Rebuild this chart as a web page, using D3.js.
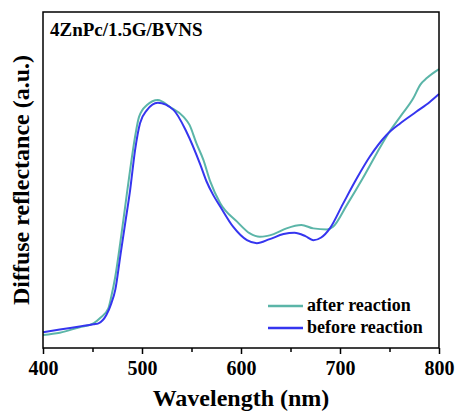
<!DOCTYPE html>
<html>
<head>
<meta charset="utf-8">
<script src="https://cdn.jsdelivr.net/npm/d3@7"></script>
<style>
  body { margin: 0; background: #fff; }
  text { font-family: "Liberation Serif", "DejaVu Serif", serif; font-weight: bold; }
</style>
</head>
<body>
<div id="chart"></div>
<script>
// Wavelength (nm) and diffuse reflectance (a.u.)
const beforeWl = [400, 417, 437, 451, 456, 464, 469, 473, 478, 483, 488, 493, 498, 505, 516, 532, 545, 559, 565, 572, 579, 592, 606, 616, 629, 643, 654, 665, 673, 681, 690, 703, 717, 730, 747, 761, 777, 791, 800];
const beforeR  = [4.7, 5.5, 6.4, 7.05, 7.35, 9.8, 13.3, 17.3, 27.2, 37.1, 47.0, 58.9, 66.9, 70.8, 73.0, 70.8, 64.3, 54.5, 49.7, 45.5, 42.1, 36.1, 32.1, 31.2, 32.4, 33.9, 34.3, 33.3, 32.1, 32.9, 35.7, 42.9, 50.5, 56.9, 63.4, 66.9, 70.3, 73.3, 75.6];

const afterWl = [400, 417, 437, 451, 458, 466, 469, 473, 478, 483, 488, 493, 497, 505, 516, 528, 542, 548, 555, 562, 569, 579, 596, 609, 619, 633, 646, 661, 673, 687, 693, 707, 723, 737, 749, 762, 774, 781, 788, 800];
const afterR  = [3.9, 4.55, 6.2, 7.35, 9.0, 11.8, 15.3, 21.2, 31.2, 42.1, 53.0, 62.9, 68.8, 72.3, 73.8, 71.8, 68.8, 66.4, 60.9, 56.0, 49.5, 43.1, 37.6, 34.1, 33.1, 33.9, 35.6, 36.6, 35.6, 35.3, 36.1, 42.6, 50.5, 57.9, 63.9, 69.3, 74.3, 78.3, 80.4, 83.0];

const majorTicks = [400, 500, 600, 700, 800];
const minorTicks = [450, 550, 650, 750];

const seriesNames = ["after reaction", "before reaction"];
const seriesColors = ["#5bb5a8", "#3535ef"];

const width = 457, height = 412;
const margin = { top: 12, right: 18, bottom: 64, left: 43 };
const innerWidth = width - margin.left - margin.right;
const innerHeight = height - margin.top - margin.bottom;

const series = [
  { name: seriesNames[0], color: seriesColors[0], values: afterWl.map((w, i) => ({ w, r: afterR[i] })) },
  { name: seriesNames[1], color: seriesColors[1], values: beforeWl.map((w, i) => ({ w, r: beforeR[i] })) }
];

const svg = d3.select("#chart")
  .append("svg")
    .attr("width", width)
    .attr("height", height);

const innerChart = svg.append("g")
  .attr("transform", `translate(${margin.left}, ${margin.top})`);

// Scales
const xScale = d3.scaleLinear()
  .domain([400, 800])
  .range([0, innerWidth]);

const yScale = d3.scaleLinear()
  .domain([0, 100])
  .range([innerHeight, 0]);

// Curves
const line = d3.line()
  .x(d => xScale(d.w))
  .y(d => yScale(d.r))
  .curve(d3.curveMonotoneX);

innerChart.selectAll(".spectrum")
  .data(series)
  .join("path")
    .attr("class", "spectrum")
    .attr("d", d => line(d.values))
    .attr("fill", "none")
    .attr("stroke", d => d.color)
    .attr("stroke-width", 2);

// Frame
innerChart.append("rect")
  .attr("width", innerWidth)
  .attr("height", innerHeight)
  .attr("fill", "none")
  .attr("stroke", "#000")
  .attr("stroke-width", 1.5);

// Bottom axis, major and minor ticks
const bottomAxis = d3.axisBottom(xScale)
  .tickValues(majorTicks)
  .tickSize(6)
  .tickPadding(7)
  .tickFormat(d3.format("d"));

const xAxis = innerChart.append("g")
  .attr("transform", `translate(0, ${innerHeight})`)
  .call(bottomAxis);
xAxis.select(".domain").remove();
xAxis.selectAll("line").attr("stroke-width", 1.5);
xAxis.selectAll("text")
  .attr("font-size", "20px")
  .attr("font-family", "Liberation Serif, serif")
  .attr("font-weight", "bold")
  .attr("fill", "#000");

const minorAxis = d3.axisBottom(xScale)
  .tickValues(minorTicks)
  .tickSize(4)
  .tickFormat("");
const xMinor = innerChart.append("g")
  .attr("transform", `translate(0, ${innerHeight})`)
  .call(minorAxis);
xMinor.select(".domain").remove();
xMinor.selectAll("line").attr("stroke-width", 1.5);

// Axis titles
svg.append("text")
  .text("Wavelength (nm)")
  .attr("text-anchor", "middle")
  .attr("x", margin.left + innerWidth / 2)
  .attr("y", 406)
  .attr("font-size", "24px");

svg.append("text")
  .text("Diffuse reflectance (a.u.)")
  .attr("text-anchor", "middle")
  .attr("transform", `translate(29, ${margin.top + innerHeight / 2}) rotate(-90)`)
  .attr("font-size", "24px");

// Sample label
innerChart.append("text")
  .text("4ZnPc/1.5G/BVNS")
  .attr("x", 7)
  .attr("y", 24)
  .attr("font-size", "19px");

// Legend
const legend = innerChart.selectAll(".legend-item")
  .data(series)
  .join("g")
    .attr("class", "legend-item")
    .attr("transform", (d, i) => `translate(225, ${294 + i * 22})`);

legend.append("line")
  .attr("x1", 0)
  .attr("x2", 35)
  .attr("stroke", d => d.color)
  .attr("stroke-width", 2.5);

legend.append("text")
  .text(d => d.name)
  .attr("x", 39)
  .attr("y", 5)
  .attr("font-size", "18px");
</script>
</body>
</html>
